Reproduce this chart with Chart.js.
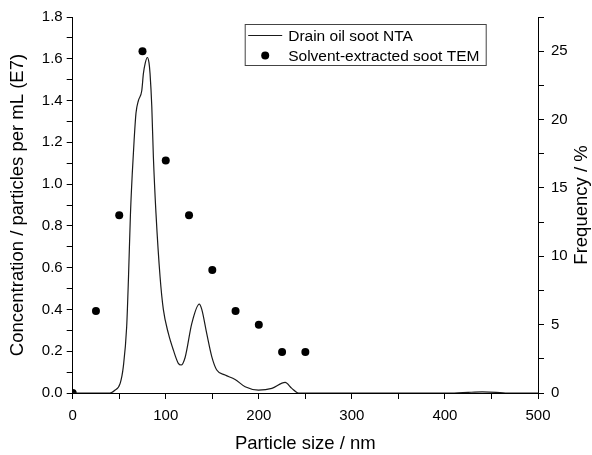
<!DOCTYPE html>
<html>
<head>
<meta charset="utf-8">
<script src="https://cdn.jsdelivr.net/npm/chart.js@4/dist/chart.umd.min.js"></script>
<style>
  body { margin: 0; background: #fff; }
  #wrap { width: 592px; height: 455px; }
</style>
</head>
<body>
<div id="wrap"><canvas id="sizeChart" width="592" height="455"></canvas></div>
<script>
// NTA curve (left axis, E7 particles per mL)
const ntaSize = [0, 40, 45, 51, 54.4, 58, 60, 62, 64, 66, 68, 70.6, 74.2, 76, 78, 80.2, 82, 83.1, 85, 86.7, 89.5,
    93.9, 97.4, 102.8, 108.2, 113.5, 116.5, 120.8, 128, 136, 138.7, 144, 149.5, 154.8, 163.8, 174.5, 185.3,
    199.6, 214, 228.3, 235.5, 242.6, 410, 425, 440, 455, 465, 500]
const ntaConc = [0, 0, 0.012, 0.046, 0.126, 0.317, 0.56, 0.85, 1.05, 1.21, 1.34, 1.40, 1.447, 1.53, 1.58, 1.606, 1.58, 1.53, 1.37, 1.13, 0.86,
    0.555, 0.40, 0.285, 0.205, 0.142, 0.134, 0.17, 0.333, 0.425, 0.40, 0.285, 0.173, 0.11, 0.086, 0.065, 0.03,
    0.014, 0.022, 0.051, 0.022, 0, 0, 0.003, 0.005, 0.003, 0, 0]

// TEM histogram points (right axis, %)
const temSize = [0, 25, 50, 75, 100, 125, 150, 175, 200, 225, 250]
const temFreq = [0, 6, 13, 25, 17, 13, 9, 6, 5, 3, 3]

// tick positions (majors get labels, the rest are minor)
const xTicks = [0, 50, 100, 150, 200, 250, 300, 350, 400, 450, 500]
const leftTicks = [0, 0.1, 0.2, 0.3, 0.4, 0.5, 0.6, 0.7, 0.8, 0.9, 1.0, 1.1, 1.2, 1.3, 1.4, 1.5, 1.6, 1.7, 1.8]
const rightTicks = [0, 2.5, 5, 7.5, 10, 12.5, 15, 17.5, 20, 22.5, 25, 27.5]

const fontFamily = "'Liberation Sans', Arial, sans-serif"
Chart.defaults.font.family = fontFamily
Chart.defaults.color = '#000'

const tickFont = { size: 15 }
const titleFont = { size: 18.5 }

function axisBase(ticks) {
    return {
        type: 'linear',
        afterBuildTicks: (scale) => { scale.ticks = ticks.map(v => ({ value: v })) },
        grid: { drawOnChartArea: false, drawTicks: true, tickLength: 6, tickColor: '#000', tickWidth: 1 },
        border: { display: true, color: '#000', width: 1 },
    }
}

// legend and right-hand title, drawn on top of the chart
const overlayPlugin = {
    id: 'overlay',
    afterDraw(chart) {
        const ctx = chart.ctx
        const area = chart.chartArea
        ctx.save()

        // right axis title, reads bottom-to-top
        ctx.font = `${titleFont.size}px ${fontFamily}`
        ctx.fillStyle = '#000'
        ctx.textAlign = 'center'
        ctx.textBaseline = 'middle'
        ctx.translate(area.right + 44, (area.top + area.bottom) / 2)
        ctx.rotate(-Math.PI / 2)
        ctx.fillText('Frequency / %', 0, 0)
        ctx.restore()

        // legend box
        ctx.save()
        const bx = area.left + 172.5, by = area.top + 7.5
        ctx.strokeStyle = '#444'
        ctx.lineWidth = 1
        ctx.strokeRect(bx, by, 241, 41)
        const rows = chart.data.datasets
        ctx.font = `15.5px ${fontFamily}`
        ctx.fillStyle = '#000'
        ctx.textAlign = 'left'
        ctx.textBaseline = 'middle'
        // line sample
        let ry = by + 11
        ctx.strokeStyle = rows[0].borderColor
        ctx.lineWidth = 1.2
        ctx.beginPath()
        ctx.moveTo(bx + 3, ry)
        ctx.lineTo(bx + 37, ry)
        ctx.stroke()
        ctx.fillText(rows[0].label, bx + 43, ry + 1)
        // dot sample
        ry = by + 31
        ctx.beginPath()
        ctx.arc(bx + 20, ry, 4, 0, Math.PI * 2)
        ctx.fill()
        ctx.fillText(rows[1].label, bx + 43, ry + 1)
        ctx.restore()
    }
}

const sizeCtx = document.getElementById('sizeChart')

const sizeChart = new Chart(sizeCtx, {
    type: 'scatter',
    data: {
        datasets: [{
            type: 'line',
            label: 'Drain oil soot NTA',
            data: ntaSize.map((s, i) => ({ x: s, y: ntaConc[i] })),
            borderColor: '#1a1a1a',
            borderWidth: 1.2,
            pointRadius: 0,
            fill: false,
            cubicInterpolationMode: 'monotone',
            xAxisID: 'x',
            yAxisID: 'y'
        }, {
            label: 'Solvent-extracted soot TEM',
            data: temSize.map((s, i) => ({ x: s, y: temFreq[i] })),
            backgroundColor: '#000',
            borderColor: '#000',
            pointRadius: 4,
            pointBorderWidth: 0,
            showLine: false,
            xAxisID: 'x',
            yAxisID: 'y1'
        }]
    },
    options: {
        responsive: false,
        animation: false,
        layout: { padding: { top: 17, left: 0, right: 0, bottom: 0 } },
        plugins: {
            legend: { display: false },
            tooltip: { enabled: false }
        },
        scales: {
            x: {
                ...axisBase(xTicks),
                position: 'bottom',
                min: 0,
                max: 500,
                afterFit: (scale) => { scale.height = 62 },
                ticks: {
                    font: tickFont,
                    padding: 8,
                    maxRotation: 0,
                    autoSkip: false,
                    callback: (v) => (v % 100 === 0 ? String(v) : '')
                },
                title: { display: true, text: 'Particle size / nm', font: titleFont, padding: { top: 0, bottom: 0 } }
            },
            y: {
                ...axisBase(leftTicks),
                position: 'left',
                min: 0,
                max: 1.8,
                afterFit: (scale) => { scale.width = 72.7 },
                ticks: {
                    font: tickFont,
                    padding: 4,
                    autoSkip: false,
                    callback: (v) => (Math.round(v * 10) % 2 === 0 ? v.toFixed(1) : '')
                },
                title: { display: true, text: 'Concentration / particles per mL (E7)', font: titleFont, padding: { top: 7, bottom: 0 } }
            },
            y1: {
                ...axisBase(rightTicks),
                position: 'right',
                min: 0,
                max: 27.5,
                afterFit: (scale) => { scale.width = 54 },
                ticks: {
                    font: tickFont,
                    padding: 7,
                    autoSkip: false,
                    callback: (v) => (v % 5 === 0 ? String(v) : '')
                },
                title: { display: false }
            }
        }
    },
    plugins: [overlayPlugin]
});
</script>
</body>
</html>
